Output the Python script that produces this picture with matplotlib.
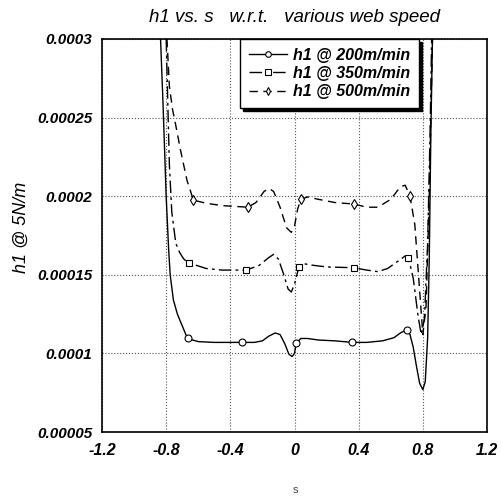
import matplotlib
matplotlib.use("Agg")
import matplotlib.pyplot as plt

# h1 @ 200 m/min (solid, circles)
s_200 = [-0.835, -0.82, -0.80, -0.785, -0.775, -0.755, -0.73, -0.71, -0.667, -0.6, -0.5,
         -0.4, -0.33, -0.25, -0.2, -0.16, -0.12, -0.09, -0.06, -0.035, -0.015, 0.0, 0.01,
         0.04, 0.08, 0.15, 0.25, 0.36, 0.45, 0.55, 0.62, 0.66, 0.70, 0.72, 0.74, 0.76,
         0.78, 0.80, 0.815, 0.83, 0.84, 0.85, 0.86]
h_200 = [0.0003, 0.00026, 0.0002, 0.000167, 0.00015, 0.000134, 0.000125, 0.00012, 0.0001095,
         0.0001075, 0.000107, 0.000107, 0.000107, 0.000107, 0.000108, 0.000111, 0.000113,
         0.000112, 0.000106, 0.0000995, 0.000098, 0.0001, 0.0001065, 0.0001095, 0.0001095,
         0.0001085, 0.000108, 0.000107, 0.000107, 0.000108, 0.00011, 0.000113, 0.000115,
         0.000112, 0.000104, 0.000092, 0.000081, 0.000077, 0.000082, 0.00011, 0.00016,
         0.00024, 0.0003]
mk_200 = [8, 12, 22, 27, 32]

# h1 @ 350 m/min (dash-dot, squares)
s_350 = [-0.80, -0.79, -0.78, -0.765, -0.74, -0.715, -0.69, -0.66, -0.55, -0.45, -0.30,
         -0.22, -0.16, -0.13, -0.10, -0.07, -0.04, -0.02, 0.0, 0.02, 0.03, 0.06, 0.12, 0.2,
         0.37, 0.45, 0.52, 0.58, 0.65, 0.69, 0.71, 0.74, 0.77, 0.79, 0.81, 0.83, 0.845, 0.855]
h_350 = [0.0003, 0.00026, 0.00022, 0.00019, 0.00017, 0.000164, 0.00016, 0.0001576,
         0.000154, 0.000153, 0.000153, 0.000156, 0.000161, 0.000163, 0.00016, 0.000151,
         0.000141, 0.000139, 0.000144, 0.000152, 0.000155, 0.000157, 0.000156, 0.000155,
         0.0001545, 0.000153, 0.000152, 0.000154, 0.000159, 0.000162, 0.000161, 0.000148,
         0.000124, 0.000112, 0.000122, 0.00017, 0.00024, 0.0003]
mk_350 = [7, 10, 20, 24, 30]

# h1 @ 500 m/min (dashed, diamonds)
s_500 = [-0.795, -0.78, -0.76, -0.74, -0.71, -0.67, -0.63, -0.55, -0.45, -0.29, -0.24,
         -0.19, -0.16, -0.13, -0.09, -0.05, -0.02, 0.0, 0.02, 0.04, 0.08, 0.15, 0.25, 0.37,
         0.45, 0.52, 0.6, 0.66, 0.69, 0.72, 0.75, 0.78, 0.80, 0.82, 0.84, 0.86]
h_500 = [0.0003, 0.00027, 0.000255, 0.000245, 0.000229, 0.00021, 0.0001975, 0.0001955,
         0.000194, 0.000193, 0.000196, 0.000203, 0.000205, 0.000203, 0.000193, 0.00018,
         0.000177, 0.000181, 0.000192, 0.000198, 0.0001995, 0.000198, 0.000196, 0.000195,
         0.000193, 0.000193, 0.000198, 0.000206, 0.000207, 0.0002, 0.000182, 0.00014,
         0.000112, 0.00013, 0.0002, 0.0003]
mk_500 = [6, 9, 19, 23, 29]

labels = ["h1 @ 200m/min", "h1 @ 350m/min", "h1 @ 500m/min"]
x_ticks = [-1.2, -0.8, -0.4, 0, 0.4, 0.8, 1.2]
x_tick_labels = ["-1.2", "-0.8", "-0.4", "0", "0.4", "0.8", "1.2"]
y_ticks = [0.00005, 0.0001, 0.00015, 0.0002, 0.00025, 0.0003]
y_tick_labels = ["0.00005", "0.0001", "0.00015", "0.0002", "0.00025", "0.0003"]

plt.rcParams['font.family'] = ['Liberation Sans', 'DejaVu Sans']

fig = plt.figure(figsize=(5.01, 4.97), dpi=100)
ax = fig.add_axes([102 / 501, 1 - 432 / 497, 385 / 501, 393 / 497])

ax.plot(s_200, h_200, color='black', lw=1.0, marker='o', ms=5, mfc='white',
        mec='black', mew=0.8, markevery=mk_200, label=labels[0])
ax.plot(s_350, h_350, color='black', lw=1.0, dashes=[9, 3, 2, 3], marker='s', ms=5,
        mfc='white', mec='black', mew=0.8, markevery=mk_350, label=labels[1])
ax.plot(s_500, h_500, color='black', lw=1.0, dashes=[6, 4], marker='d', ms=5,
        mfc='white', mec='black', mew=0.8, markevery=mk_500, label=labels[2])

ax.set_xlim(-1.2, 1.2)
ax.set_ylim(0.00005, 0.0003)
ax.set_xticks(x_ticks)
ax.set_xticklabels(x_tick_labels, fontsize=11.5, fontweight='bold', style='italic')
ax.set_yticks(y_ticks)
ax.set_yticklabels(y_tick_labels, fontsize=11, fontweight='bold', style='italic')
ax.tick_params(axis='x', length=0, pad=8)
ax.tick_params(axis='y', length=0, pad=7)
ax.grid(True, color='#555555', linestyle=':', linewidth=0.8)
for sp in ax.spines.values():
    sp.set_linewidth(1.2)

ax.set_title("h1 vs. s   w.r.t.   various web speed", fontsize=13.5, style='italic',
             pad=12)
ax.set_ylabel("h1 @ 5N/m", fontsize=13, style='italic')
ax.yaxis.set_label_coords(-0.187, 0.52)
fig.text(295 / 501, 1 - 490 / 497, "s", fontsize=8, color='#444444',
         ha='center', va='center')

leg = ax.legend(loc='upper left', bbox_to_anchor=(0.358, 1.0), borderaxespad=0,
                fancybox=False, shadow={'color': 'black', 'alpha': 1},
                edgecolor='black', framealpha=1, handlelength=2.4,
                handletextpad=0.4, labelspacing=0.2, borderpad=0.55,
                markerscale=0.8,
                prop={'size': 11.5, 'weight': 'bold', 'style': 'italic'})
leg.get_frame().set_linewidth(1.0)

fig.savefig("out.png", dpi=100)
